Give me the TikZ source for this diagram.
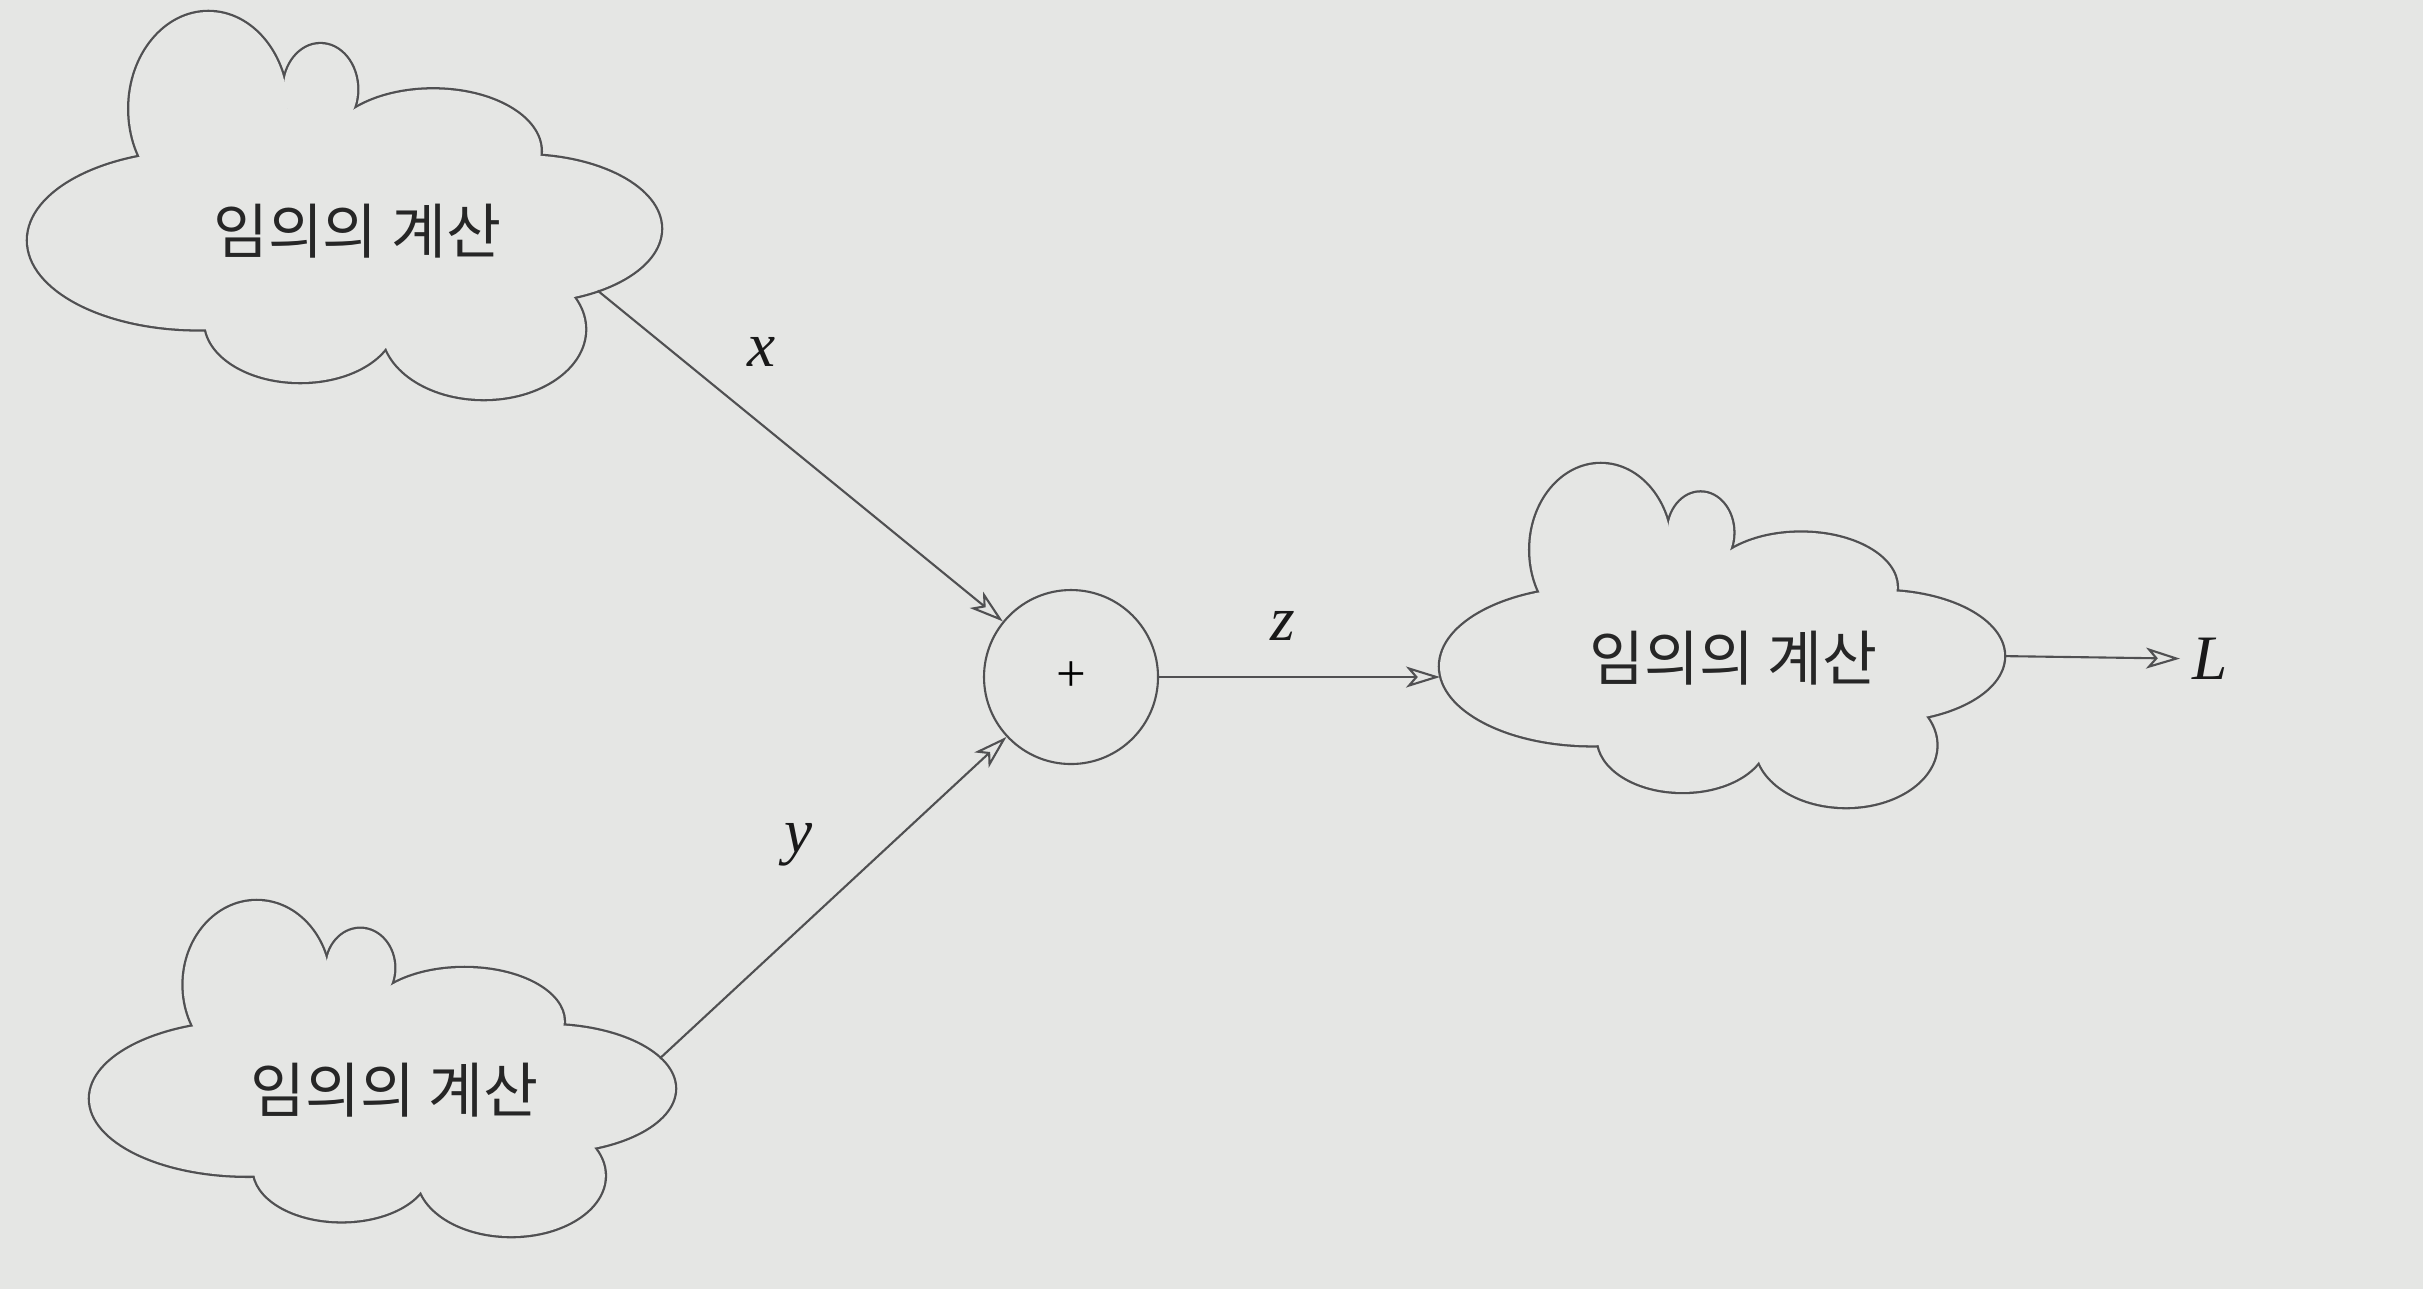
\documentclass[tikz,border=0pt]{standalone}
\usepackage{fontspec}
\setmainfont{Liberation Serif}
\newfontfamily\kofont{Noto Sans CJK KR}
\usetikzlibrary{arrows.meta}
\definecolor{paper}{RGB}{229,230,228}
\definecolor{ink}{RGB}{80,80,82}
\newcommand\cloudbumps{0.27/0.59/0.27/0.23, 0.285/0.25/0.125/0.25, 0.462/0.2/0.058/0.117,
	0.64/0.36/0.17/0.16, 0.78/0.56/0.22/0.19, 0.72/0.82/0.16/0.18, 0.43/0.80/0.15/0.156,
	0.52/0.55/0.33/0.26, 0.4/0.35/0.12/0.1}
\tikzset{
	cloudline/.style={draw=ink, line width=1.3pt},
	conn/.style={draw=ink, line width=0.6pt, -{Stealth[open, length=3.4mm, width=2.1mm, inset=0.9mm]}},
	calctext/.style={font=\kofont\fontsize{17}{20}\selectfont, text=black!85},
	varlabel/.style={font=\itshape\fontsize{18}{20}\selectfont, text=black!90},
	cloudblob/.pic={
		\foreach \cx/\cy/\rx/\ry in \cloudbumps
			\draw[cloudline] (\cx,-\cy) ellipse [x radius=\rx, y radius=\ry];
		\foreach \cx/\cy/\rx/\ry in \cloudbumps
			\fill[paper] (\cx,-\cy) ellipse [x radius=\rx, y radius=\ry];
		\coordinate (-east) at (1,-0.56);
		\coordinate (-west) at (0,-0.59);
		\coordinate (-se) at (0.90,-0.72);
		\coordinate (-ene) at (0.974,-0.47);
		\node[calctext] (-text) at (0.52,-0.565) {#1};
	}
}
\begin{document}
\begin{tikzpicture}
	\useasboundingbox (0,0) rectangle (24.23,-12.89);
	\fill[paper] (0,0) rectangle (24.23,-12.89);
	\pic[xscale=6.33, yscale=3.87] (calcA) at (0.28,-0.12) {cloudblob=임의의 계산};
	\pic[xscale=5.85, yscale=3.35] (calcB) at (0.90,-9.01) {cloudblob=임의의 계산};
	\pic[xscale=5.64, yscale=3.43] (calcC) at (14.40,-4.64) {cloudblob=임의의 계산};
	\node[circle, draw=ink, line width=0.6pt, minimum size=1.74cm, inner sep=0pt, font=\fontsize{15}{16}\selectfont] (add) at (10.71,-6.77) {+};
	\node[varlabel] (L) at (22.10,-6.59) {L};
	\node[varlabel] (lx) at (7.62,-3.52) {x};
	\node[varlabel] (ly) at (7.99,-8.45) {y};
	\node[varlabel] (lz) at (12.83,-6.26) {z};
	\draw[conn] (calcA-se) -- (add);
	\draw[conn] (calcB-ene) -- (add);
	\draw[conn] (add) -- (add -| calcC-west);
	\draw[conn] (calcC-east) -- (L);
\end{tikzpicture}
\end{document}
